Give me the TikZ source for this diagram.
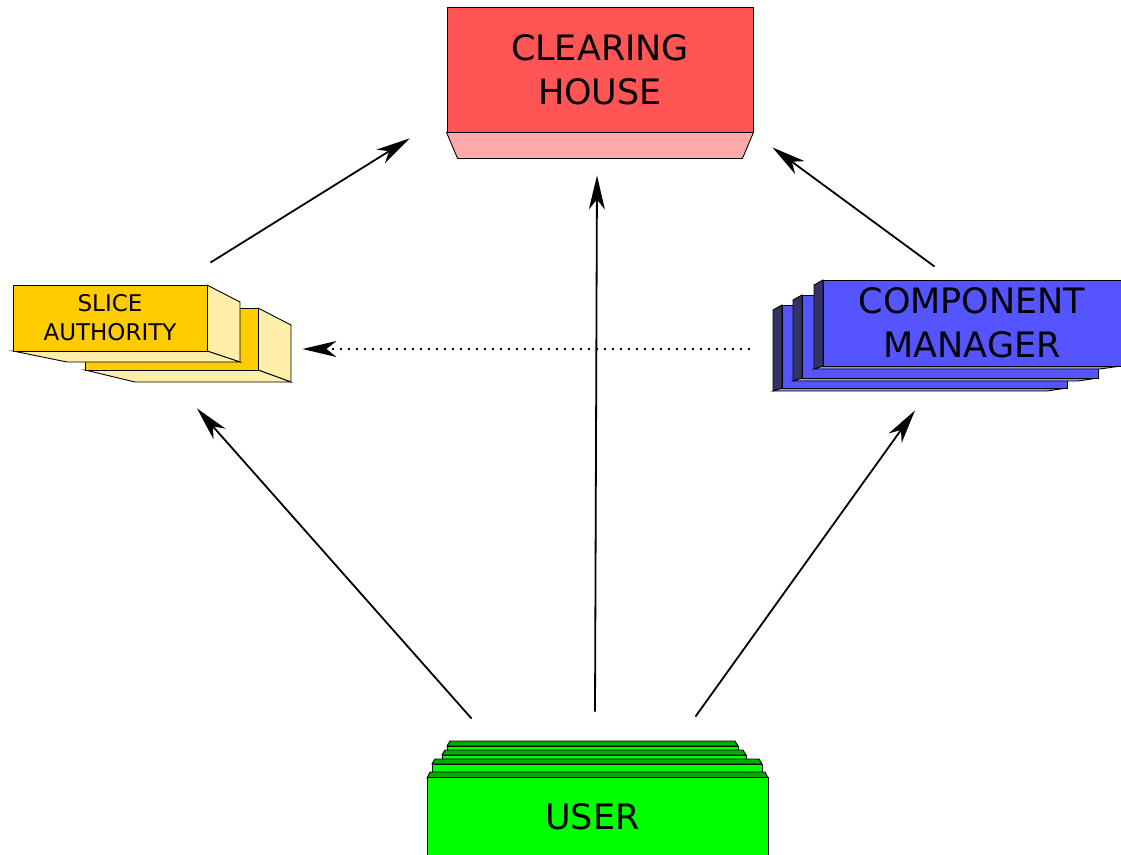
\documentclass[tikz,border=0pt]{standalone}
\usepackage{fontspec}
\setmainfont{DejaVu Sans}
\usetikzlibrary{arrows.meta, positioning}

\definecolor{chred}{HTML}{FF5555}
\definecolor{chpink}{HTML}{FFAAAA}
\definecolor{sayellow}{HTML}{FFCC00}
\definecolor{salight}{HTML}{FFEEAA}
\definecolor{cmblue}{HTML}{5555FF}
\definecolor{cmdark}{HTML}{333366}
\definecolor{cmlight}{HTML}{8F8FFF}
\definecolor{usgreen}{HTML}{00FF00}
\definecolor{usdark}{HTML}{00AA00}

\tikzset {
    x=1pt, y=-1pt,
    rim/.style={draw=black, line width=0.9pt},
    face/.style={rim, inner sep=0pt, align=center},
    bigtext/.style={font=\fontsize{35}{44}\selectfont},
    smalltext/.style={font=\fontsize{23}{29}\selectfont},
    flow/.style={draw, -{Stealth[length=34pt, width=16pt, inset=10pt]}, line width=1.8pt},
    hint/.style={line width=1.3pt, dash pattern=on 1.3pt off 6.7pt}
}

% one card of the component manager stack
\newcommand\cmcard[4]{%
    \filldraw[rim, fill=cmdark] (#1-9,#2+5) -- (#1,#2) -- (#1,#4) -- (#1-9,#4+3) -- cycle;
    \filldraw[rim, fill=cmlight] (#1-9,#4+3) -- (#1,#4) -- (#3,#4) -- (#3-20,#4+3) -- cycle;
    \filldraw[rim, fill=cmblue] (#1,#2) rectangle (#3,#4);
}
% one sheet of the user stack
\newcommand\ussheet[3]{%
    \filldraw[rim, fill=usgreen] (#1-3,#3+5) rectangle (#2+3,#3+14);
    \filldraw[rim, fill=usdark] (#1,#3) -- (#2,#3) -- (#2+3,#3+5) -- (#1-3,#3+5) -- cycle;
}

\begin{document}
\begin{tikzpicture}
    \useasboundingbox (0,0) rectangle (1121,854);

    % clearing house
    \node[face, bigtext, fill=chred, minimum width=306pt, minimum height=125pt] (ch) at (600,69.5) {CLEARING\\HOUSE};
    \filldraw[rim, fill=chpink] (ch.south west) -- (ch.south east) -- ++(-11,26) -- ([shift={(11,26)}]ch.south west) -- cycle;

    % slice authority, back card first
    \filldraw[rim, fill=salight] (258,308) -- (291,325) -- (291,382) -- (258,370) -- cycle;
    \filldraw[rim, fill=salight] (85,370) -- (258,370) -- (291,382) -- (135,382) -- cycle;
    \filldraw[rim, fill=sayellow] (85,308) rectangle (258,370);
    \filldraw[rim, fill=salight] (207,285) -- (240,302) -- (240,362) -- (207,351) -- cycle;
    \filldraw[rim, fill=salight] (13,351) -- (207,351) -- (240,362) -- (67,362) -- cycle;
    \node[face, smalltext, fill=sayellow, minimum width=194pt, minimum height=66pt] (sa) at (110,318) {SLICE\\AUTHORITY};

    % component manager
    \cmcard{782}{305}{1067}{388}
    \cmcard{802}{295}{1098}{378}
    \filldraw[rim, fill=cmdark] (814,285) -- (823,280) -- (823,366) -- (814,369) -- cycle;
    \filldraw[rim, fill=cmlight] (814,369) -- (823,366) -- (1121,366) -- (1100,369) -- cycle;
    \node[face, bigtext, fill=cmblue, minimum width=298pt, minimum height=86pt] (cm) at (972,323) {COMPONENT\\MANAGER};

    % user
    \ussheet{450}{735}{741}
    \ussheet{445}{743}{750}
    \ussheet{435}{759}{759}
    \filldraw[rim, fill=usdark] (430,772) -- (765,772) -- (768,778) -- (427,778) -- cycle;
    \node[face, bigtext, fill=usgreen, minimum width=341pt, minimum height=80pt] (us) at (597.5,817) {USER\hspace*{10pt}};

    \path
    ([shift={(3,-22)}]sa.north east) edge[flow] ([shift={(-37,6)}]ch.south west)
    ([shift={(-2.5,-65)}]us.north) edge[flow] ([shift={(-3,43)}]ch.south)
    ([shift={(112,-13)}]cm.north west) edge[flow] ([shift={(19,15)}]ch.south east)
    ([shift={(45,-58)}]us.north west) edge[flow] ([shift={(87,57)}]sa.south)
    ([shift={(-73,-60)}]us.north east) edge[flow] ([shift={(-57,44)}]cm.south)
    ([shift={(-73,26)}]cm.west) edge[flow, hint] ([shift={(95,31)}]sa.east);
\end{tikzpicture}
\end{document}
